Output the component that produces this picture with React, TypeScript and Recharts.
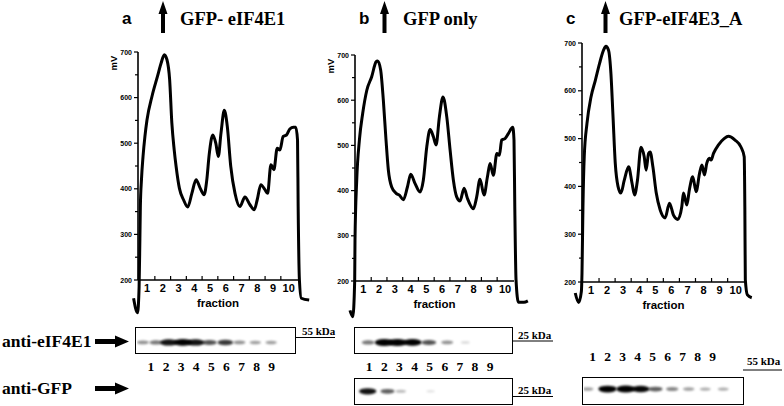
import React from 'react';
import { LineChart, Line, XAxis, YAxis, ScatterChart, Scatter } from 'recharts';

const SANS = '"Liberation Sans", Arial, sans-serif';
const SERIF = '"Liberation Serif", "Times New Roman", serif';

// [fraction position, absorbance mV]
const traceA: [number, number][] = [
  [0.15, 160], [0.4, 128], [0.5, 185], [0.55, 290], [0.58, 361], [0.65, 420], [0.75, 471],
  [0.87, 515], [1.0, 551], [1.32, 603], [1.67, 647], [1.9, 676], [2.1, 694], [2.27, 683],
  [2.44, 639], [2.58, 544], [2.73, 485], [2.85, 449], [3.06, 401], [3.32, 376], [3.59, 360],
  [3.85, 390], [4.12, 420], [4.37, 402], [4.63, 387], [4.8, 420], [4.95, 475], [5.18, 518],
  [5.37, 500], [5.53, 471], [5.7, 522], [5.91, 572], [6.1, 537], [6.32, 449], [6.59, 390],
  [6.9, 361], [7.22, 382], [7.54, 365], [7.81, 354], [8.0, 376], [8.23, 409], [8.49, 398],
  [8.66, 390], [8.87, 453], [9.06, 442], [9.27, 489], [9.44, 485], [9.65, 515], [9.86, 518],
  [10.07, 531], [10.3, 535], [10.45, 535], [10.56, 507], [10.6, 360], [10.68, 200],
  [10.8, 160], [11.3, 156],
];

const traceB: [number, number][] = [
  [0.15, 135], [0.33, 121], [0.45, 200], [0.47, 290], [0.58, 423], [0.75, 512], [0.96, 571],
  [1.22, 622], [1.53, 652], [1.81, 685], [1.91, 687], [2.1, 667], [2.27, 600], [2.44, 512],
  [2.59, 445], [2.8, 408], [3.08, 394], [3.29, 390], [3.54, 380], [3.8, 408], [4.01, 436],
  [4.28, 416], [4.6, 397], [4.81, 423], [5.03, 497], [5.24, 535], [5.45, 519], [5.62, 501],
  [5.83, 563], [6.06, 607], [6.3, 563], [6.51, 490], [6.72, 423], [6.93, 386], [7.14, 377],
  [7.4, 405], [7.61, 383], [7.99, 360], [8.2, 386], [8.41, 425], [8.67, 390], [8.88, 430],
  [9.05, 460], [9.26, 434], [9.48, 482], [9.64, 478], [9.79, 512], [10.0, 515], [10.21, 526],
  [10.49, 540], [10.57, 512], [10.62, 364], [10.7, 202], [10.85, 153], [11.2, 153],
  [11.45, 156],
];

const traceC: [number, number][] = [
  [0.02, 177], [0.23, 157], [0.4, 180], [0.44, 219], [0.5, 358], [0.58, 462], [0.75, 532],
  [1.0, 587], [1.27, 622], [1.53, 657], [1.78, 685], [1.93, 693], [2.09, 685], [2.24, 636],
  [2.37, 546], [2.51, 448], [2.68, 400], [2.86, 386], [3.07, 413], [3.34, 441], [3.55, 407],
  [3.71, 382], [3.89, 413], [4.11, 482], [4.31, 462], [4.43, 434], [4.58, 469], [4.68, 472],
  [4.85, 441], [5.06, 386], [5.3, 351], [5.61, 334], [5.88, 365], [6.13, 340], [6.4, 331],
  [6.65, 358], [6.75, 386], [6.96, 361], [7.12, 393], [7.33, 420], [7.54, 389], [7.75, 427],
  [7.9, 445], [8.06, 424], [8.2, 448], [8.37, 459], [8.47, 455], [8.62, 469], [8.93, 487],
  [9.28, 500], [9.55, 505], [9.96, 497], [10.32, 483], [10.53, 462], [10.57, 358],
  [10.6, 205], [10.73, 173], [11.0, 167],
];

const fractionTicks = [1, 1.5, 2, 2.5, 3, 3.5, 4, 4.5, 5, 5.5, 6, 6.5, 7, 7.5, 8, 8.5, 9, 9.5, 10];
const mvTicks = [200, 250, 300, 350, 400, 450, 500, 550, 600, 650, 700];
const laneLabels = [1, 2, 3, 4, 5, 6, 7, 8, 9];

// western blot bands: lane position and relative signal
const blotALanes = [0.47, 1.33, 2.18, 3.11, 3.96, 4.88, 5.93, 6.86, 7.91, 8.96];
const blotASignal = [0.35, 0.45, 0.85, 0.95, 0.85, 0.6, 0.7, 0.35, 0.3, 0.3];
const blotB1Lanes = [0.93, 1.99, 2.87, 3.86, 4.95, 6.16, 7.36];
const blotB1Signal = [0.45, 1, 1, 0.95, 0.6, 0.35, 0.08];
const blotB2Lanes = [0.9, 2.21, 3.09, 5.06];
const blotB2Signal = [0.85, 0.55, 0.2, 0.05];
const blotCLanes = [0.67, 1.99, 3.2, 4.2, 5.19, 6.3, 7.4, 8.5, 9.7];
const blotCSignal = [0.3, 0.95, 1, 0.9, 0.55, 0.4, 0.3, 0.25, 0.25];

const renderFractionTick = (p: any) => {
  const { x, y, payload } = p;
  if (Number.isInteger(payload.value)) {
    return (
      <text x={x} y={y + 12} textAnchor="middle" fontSize={11} fontWeight={700} fontFamily={SANS} fill="#000">
        {payload.value}
      </text>
    );
  }
  return <line x1={x} x2={x} y1={y} y2={y - 4} stroke="#000" strokeWidth={1.2} />;
};

const renderMvTick = (p: any) => {
  const { x, y, payload } = p;
  const major = payload.value % 100 === 0;
  return (
    <g>
      <line x1={x - (major ? 4 : 3)} x2={x} y1={y} y2={y} stroke="#000" strokeWidth={1.2} />
      {major && (
        <text x={x - 6} y={y + 2.5} textAnchor="end" fontSize={7} fontWeight={700} fontFamily={SANS} fill="#000">
          {payload.value}
        </text>
      )}
    </g>
  );
};

const renderMvLabel = (p: any) => {
  const vb = p.viewBox;
  const cx = vb.x + vb.width - 25;
  const cy = vb.y + 11;
  return (
    <text x={cx} y={cy} transform={`rotate(-90 ${cx} ${cy})`} textAnchor="middle" dominantBaseline="central"
      fontSize={9.5} fontWeight={700} fontFamily={SANS} fill="#000">
      mV
    </text>
  );
};

type ProfileProps = {
  trace: [number, number][];
  left: number;
  right: number;
  top: number;
  bottom: number;
  domain: [number, number];
  showMv: boolean;
};

function Profile({ trace, left, right, top, bottom, domain, showMv }: ProfileProps) {
  const data = trace.map(([x, mv]) => ({ x, mv }));
  const margin = { top: 10, right: 22, bottom: 15, left: 0 };
  const yw = 30;
  const xh = 30;
  const width = yw + (right - left) + margin.right;
  const height = margin.top + (bottom - top) + xh + margin.bottom;
  const axisLine = { stroke: '#000', strokeWidth: 1.6 };
  return (
    <div style={{ position: 'absolute', left: left - yw, top: top - margin.top }}>
      <LineChart width={width} height={height} data={data} margin={margin}>
        <XAxis
          dataKey="x"
          type="number"
          domain={domain}
          allowDataOverflow
          ticks={fractionTicks}
          interval={0}
          height={xh}
          tickSize={0}
          tickMargin={0}
          tickLine={false}
          tick={renderFractionTick}
          axisLine={axisLine}
          label={{ value: 'fraction', position: 'insideBottom', offset: 3, fill: '#000', fontSize: 11.5, fontWeight: 700, fontFamily: SANS }}
        />
        <YAxis
          type="number"
          domain={[200, 700]}
          allowDataOverflow
          ticks={mvTicks}
          interval={0}
          width={yw}
          tickSize={0}
          tickMargin={0}
          tickLine={false}
          tick={renderMvTick}
          axisLine={axisLine}
          label={showMv ? renderMvLabel : undefined}
        />
        <Line dataKey="mv" type="monotone" stroke="#000" strokeWidth={3} dot={false} isAnimationActive={false} />
      </LineChart>
    </div>
  );
}

type BlotProps = {
  lanes: number[];
  signal: number[];
  left: number;
  top: number;
  width: number;
  height: number;
  domain: [number, number];
  row: [number, number];
  labels?: 'top' | 'bottom';
};

function Blot({ lanes, signal, left, top, width, height, domain, row, labels }: BlotProps) {
  const data = lanes.map((lane, i) => ({ lane, row: 0, v: signal[i] }));
  const b = 1.5;
  const xh = 36;
  const innerW = width - 2 * b;
  const innerH = height - 2 * b;
  const chartTop = labels === 'top' ? top + b - xh : top + b;
  const laneTick = (p: any) => (
    <text x={p.x} y={labels === 'top' ? p.y - 18.3 : p.y + 18} textAnchor="middle" fontSize={13.5}
      fontWeight={700} fontFamily={SERIF} fill="#000">
      {p.payload.value}
    </text>
  );
  const band = (p: any) => {
    const v = p.payload.v;
    return (
      <ellipse cx={p.cx} cy={p.cy} rx={4 + 5.5 * v} ry={1 + 2.5 * v} fill="#000"
        fillOpacity={Math.min(1, 0.08 + v)} filter="url(#bandBlur)" />
    );
  };
  return (
    <>
      <div style={{ position: 'absolute', left, top, width, height, boxSizing: 'border-box', border: `${b}px solid #000` }} />
      <div style={{ position: 'absolute', left: left + b, top: chartTop }}>
        <ScatterChart width={innerW} height={innerH + (labels ? xh : 0)} margin={{ top: 0, right: 0, bottom: 0, left: 0 }}>
          <XAxis
            dataKey="lane"
            type="number"
            domain={domain}
            allowDataOverflow
            hide={!labels}
            orientation={labels === 'top' ? 'top' : 'bottom'}
            height={xh}
            ticks={laneLabels}
            interval={0}
            tickSize={0}
            tickMargin={0}
            axisLine={false}
            tickLine={false}
            tick={laneTick}
          />
          <YAxis dataKey="row" type="number" domain={row} allowDataOverflow hide />
          <Scatter data={data} shape={band} isAnimationActive={false} />
        </ScatterChart>
      </div>
    </>
  );
}

const upArrow = (cx: number) =>
  `${cx},1 ${cx + 4.5},14 ${cx + 2},14 ${cx + 2},33 ${cx - 2},33 ${cx - 2},14 ${cx - 4.5},14`;
const rightArrow = (cy: number) =>
  `95,${cy - 2.5} 115,${cy - 2.5} 115,${cy - 6} 129,${cy} 115,${cy + 6} 115,${cy + 2.5} 95,${cy + 2.5}`;

export default function App() {
  const titleStyle = { fontFamily: SERIF, fontWeight: 700, fontSize: 18.5 };
  const letterStyle = { fontFamily: SANS, fontWeight: 700, fontSize: 17 };
  const kdaStyle = { fontFamily: SERIF, fontWeight: 700, fontSize: 11 };
  const antiStyle = { fontFamily: SERIF, fontWeight: 700, fontSize: 17.5 };
  return (
    <div style={{ position: 'absolute', left: 0, top: 0, width: 784, height: 406, background: '#fff', overflow: 'hidden' }}>
      <style>{'.profile [clip-path]{clip-path:none !important}'}</style>
      <svg width={0} height={0} style={{ position: 'absolute' }}>
        <defs>
          <filter id="bandBlur" x="-50%" y="-100%" width="200%" height="300%">
            <feGaussianBlur stdDeviation="1" />
          </filter>
        </defs>
      </svg>
      <svg width={784} height={406} style={{ position: 'absolute', left: 0, top: 0 }}>
        <text x={122} y={23.5} style={letterStyle}>a</text>
        <polygon points={upArrow(163)} fill="#000" />
        <text x={180} y={25} style={titleStyle}>GFP- eIF4E1</text>
        <text x={359} y={23.5} style={letterStyle}>b</text>
        <polygon points={upArrow(384.5)} fill="#000" />
        <text x={403} y={25} style={titleStyle}>GFP only</text>
        <text x={566} y={23.5} style={letterStyle}>c</text>
        <polygon points={upArrow(605.5)} fill="#000" />
        <text x={619} y={25} style={titleStyle}>GFP-eIF4E3_A</text>

        <text x={2} y={347} style={antiStyle}>anti-eIF4E1</text>
        <polygon points={rightArrow(341.5)} fill="#000" />
        <text x={2} y={394} style={antiStyle}>anti-GFP</text>
        <polygon points={rightArrow(388.5)} fill="#000" />

        <text x={302} y={335} style={kdaStyle}>55 kDa</text>
        <line x1={296} x2={335} y1={337.5} y2={337.5} stroke="#000" strokeWidth={1} />
        <text x={518} y={338.5} style={kdaStyle}>25 kDa</text>
        <line x1={512} x2={553} y1={341} y2={341} stroke="#000" strokeWidth={1} />
        <text x={518} y={393.5} style={kdaStyle}>25 kDa</text>
        <line x1={512} x2={553} y1={396.5} y2={396.5} stroke="#000" strokeWidth={1} />
        <text x={747} y={365} style={kdaStyle}>55 kDa</text>
        <line x1={743} x2={782} y1={370} y2={370} stroke="#000" strokeWidth={1} />
      </svg>

      <div className="profile">
        <Profile trace={traceA} left={138} right={298} top={52} bottom={280} domain={[0.43, 10.59]} showMv />
        <Profile trace={traceB} left={355} right={514} top={55} bottom={281} domain={[0.47, 10.57]} showMv />
        <Profile trace={traceC} left={582} right={745} top={43} bottom={282} domain={[0.44, 10.58]} showMv={false} />
      </div>

      <Blot lanes={blotALanes} signal={blotASignal} left={135} top={327} width={161} height={27}
        domain={[0.08, 10.54]} row={[-0.44, 0.56]} labels="bottom" />
      <Blot lanes={blotB1Lanes} signal={blotB1Signal} left={354} top={327} width={159} height={27}
        domain={[0.125, 10.45]} row={[-0.44, 0.56]} labels="bottom" />
      <Blot lanes={blotB2Lanes} signal={blotB2Signal} left={354} top={378} width={159} height={27}
        domain={[0.125, 10.45]} row={[-0.53, 0.47]} />
      <Blot lanes={blotCLanes} signal={blotCSignal} left={582} top={377} width={162} height={28}
        domain={[0.42, 11.02]} row={[-0.6, 0.4]} labels="top" />
    </div>
  );
}
